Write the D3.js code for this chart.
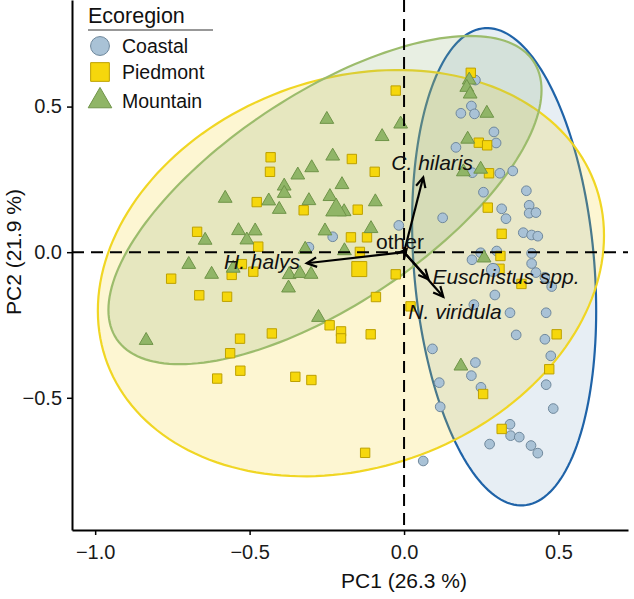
<!DOCTYPE html>
<html lang="en">
<head>
  <meta charset="UTF-8">
  <title>PCA biplot by ecoregion</title>
  <script src="https://d3js.org/d3.v7.min.js"></script>
  <style>
    body { margin: 0; background: #fff; }
    text { font-family: "Liberation Sans", Arial, sans-serif; fill: #111; }
    .axis path, .axis line { stroke: #000; }
    .axis path { stroke-width: 2; }
    .axis line { stroke-width: 1.5; }
    .axis text { font-size: 20px; fill: #1a1a1a; }
    .zero { stroke: #000; stroke-width: 2; stroke-dasharray: 12,7; }
    .loading { stroke: #000; stroke-width: 2.2; fill: none; }
    .spp { font-size: 21px; }
  </style>
</head>
<body>
  <div id="chart"></div>

  <script>
    // PC scores, [PC1, PC2]
    const coastal = [
      [0.231, 0.591], [0.218, 0.502], [0.184, 0.477], [0.228, 0.475], [0.291, 0.413],
      [0.298, 0.375], [0.168, 0.360], [0.221, 0.273], [0.310, 0.271], [0.352, 0.279],
      [0.396, 0.211], [0.257, 0.206], [0.316, 0.149], [0.405, 0.161], [0.405, 0.134],
      [0.427, 0.136], [0.330, 0.115], [0.125, 0.118], [0.386, 0.067], [0.413, 0.059],
      [0.433, 0.055], [0.248, -0.002], [0.300, 0.004], [0.220, -0.026], [0.413, -0.004],
      [0.413, -0.039], [0.427, -0.070], [0.456, -0.086], [0.478, -0.118], [0.294, -0.147],
      [0.226, -0.180], [0.343, -0.208], [0.460, -0.208], [0.363, -0.284], [0.456, -0.299],
      [0.092, -0.332], [0.475, -0.356], [0.231, -0.379], [0.218, -0.424], [0.114, -0.448],
      [0.249, -0.464], [0.460, -0.455], [0.117, -0.531], [0.483, -0.537], [0.343, -0.591],
      [0.345, -0.630], [0.373, -0.635], [0.277, -0.659], [0.411, -0.664], [0.433, -0.690],
      [0.062, -0.717], [-0.017, 0.092], [-0.231, 0.053], [-0.308, 0.017]
    ];
    const piedmont = [
      [0.216, 0.616], [-0.027, 0.555], [-0.432, 0.326], [-0.434, 0.276], [-0.169, 0.320],
      [-0.095, 0.276], [0.242, 0.376], [0.269, 0.367], [0.275, 0.271], [0.271, 0.153],
      [0.316, 0.063], [0.312, -0.013], [0.309, -0.057], [0.380, -0.109], [0.494, -0.282],
      [0.470, -0.402], [0.256, -0.487], [0.316, -0.607], [-0.477, 0.172], [-0.670, 0.070],
      [-0.472, 0.019], [-0.525, -0.041], [-0.558, -0.078], [-0.488, -0.067], [-0.754, -0.091],
      [-0.663, -0.148], [-0.573, -0.153], [-0.531, -0.297], [-0.563, -0.347], [-0.530, -0.407],
      [-0.605, -0.434], [-0.325, 0.144], [-0.150, 0.146], [-0.172, 0.051], [-0.120, 0.051],
      [-0.143, 0.001], [-0.027, -0.076], [-0.091, -0.154], [0.021, -0.186], [-0.241, -0.251],
      [-0.204, -0.272], [-0.204, -0.296], [-0.108, -0.282], [-0.428, -0.279], [-0.352, -0.428],
      [-0.300, -0.439], [-0.126, -0.689]
    ];
    const mountain = [
      [0.211, 0.591], [0.203, 0.566], [0.214, 0.543], [0.268, 0.477], [0.206, 0.388],
      [0.192, 0.276], [0.248, 0.285], [0.259, -0.020], [0.184, -0.391], [-0.250, 0.456],
      [-0.011, 0.440], [-0.071, 0.397], [-0.231, 0.330], [-0.299, 0.290], [-0.344, 0.265],
      [-0.388, 0.227], [-0.388, 0.202], [-0.201, 0.232], [-0.579, 0.185], [-0.438, 0.176],
      [-0.308, 0.177], [-0.240, 0.191], [-0.404, 0.147], [-0.194, 0.139], [-0.093, 0.173],
      [-0.644, 0.041], [-0.536, 0.074], [-0.482, 0.073], [-0.509, 0.042], [-0.256, 0.073],
      [-0.107, 0.081], [-0.320, 0.010], [-0.193, 0.005], [-0.697, -0.042], [-0.623, -0.076],
      [-0.553, -0.055], [-0.372, -0.077], [-0.337, -0.073], [-0.301, -0.076], [-0.374, -0.123],
      [-0.277, -0.224], [-0.835, -0.303]
    ];

    // group means (drawn larger)
    const centroidGroups = ["Coastal", "Piedmont", "Mountain"];
    const centroidPC1 = [0.288, -0.145, -0.220];
    const centroidPC2 = [-0.061, -0.058, 0.145];

    // ellipse centres and spread (variances / covariance in PC units)
    const ellipseGroups = ["Coastal", "Piedmont", "Mountain"];
    const ellipseCx  = [0.324, -0.172, -0.256];
    const ellipseCy  = [-0.050, -0.072, 0.179];
    const ellipseVxx = [0.0888, 0.6713, 0.4915];
    const ellipseVyy = [0.6717, 0.4866, 0.3176];
    const ellipseVxy = [-0.0451, 0.1057, 0.2646];

    // species loadings and label positions
    const species  = ["H. halys", "C. hilaris", "Euschistus spp.", "N. viridula", "other"];
    const loadPC1  = [-0.315, 0.062, 0.079, 0.127, 0.008];
    const loadPC2  = [-0.038, 0.257, -0.093, -0.153, 0.010];
    const labelPC1 = [-0.460, 0.091, 0.330, 0.165, -0.013];
    const labelPC2 = [-0.034, 0.306, -0.085, -0.205, 0.035];

    const xTicks = [-1.0, -0.5, 0.0, 0.5];
    const yTicks = [-0.5, 0.0, 0.5];

    const colors = {
      Coastal:  { fill: "#a9c2d6", stroke: "#6f889c", ring: "#1f63a8", shade: "#87aac8", shape: d3.symbolCircle },
      Piedmont: { fill: "#f6d70c", stroke: "#bda100", ring: "#f0d624", shade: "#f5d31e", shape: d3.symbolSquare },
      Mountain: { fill: "#90b567", stroke: "#6f9448", ring: "#9cbc6c", shade: "#8eaf72", shape: d3.symbolTriangle }
    };
    const pointSize = { Coastal: 74, Piedmont: 88, Mountain: 82 };
    const centroidSize = { Coastal: 135, Piedmont: 225, Mountain: 185 };

    const W = 634, H = 599;
    const svg = d3.select("#chart")
      .append("svg")
      .attr("width", W)
      .attr("height", H);

    const x = d3.scaleLinear().domain([-1.075, 0.725]).range([72, 628]);
    const y = d3.scaleLinear().domain([-0.954, 0.866]).range([530, 0]);

    // ellipses
    const line = d3.line().x(d => x(d[0])).y(d => y(d[1])).curve(d3.curveLinearClosed);
    ellipseGroups.forEach((g, i) => {
      const l11 = Math.sqrt(ellipseVxx[i]);
      const l21 = ellipseVxy[i] / l11;
      const l22 = Math.sqrt(ellipseVyy[i] - l21 * l21);
      const pts = d3.range(0, 2 * Math.PI, Math.PI / 90).map(t => [
        ellipseCx[i] + l11 * Math.cos(t),
        ellipseCy[i] + l21 * Math.cos(t) + l22 * Math.sin(t)
      ]);
      svg.append("path")
        .attr("d", line(pts))
        .attr("fill", colors[g].shade)
        .attr("fill-opacity", 0.2)
        .attr("stroke", colors[g].ring)
        .attr("stroke-width", 2.2);
    });

    // points
    const groups = [["Coastal", coastal], ["Piedmont", piedmont], ["Mountain", mountain]];
    groups.forEach(([g, data]) => {
      svg.append("g").selectAll("path")
        .data(data)
        .enter()
        .append("path")
        .attr("transform", d => `translate(${x(d[0])},${y(d[1])})`)
        .attr("d", d3.symbol().type(colors[g].shape).size(pointSize[g]))
        .attr("fill", colors[g].fill)
        .attr("stroke", colors[g].stroke)
        .attr("stroke-width", 1);
    });

    svg.append("g").selectAll("path")
      .data(centroidGroups)
      .enter()
      .append("path")
      .attr("transform", (g, i) => `translate(${x(centroidPC1[i])},${y(centroidPC2[i])})`)
      .attr("d", g => d3.symbol().type(colors[g].shape).size(centroidSize[g])())
      .attr("fill", g => colors[g].fill)
      .attr("stroke", g => colors[g].stroke)
      .attr("stroke-width", 1);

    // zero lines
    svg.append("line").attr("class", "zero")
      .attr("x1", x(0)).attr("x2", x(0)).attr("y1", y.range()[1]).attr("y2", y.range()[0]);
    svg.append("line").attr("class", "zero")
      .attr("x1", x.range()[0]).attr("x2", x.range()[1]).attr("y1", y(0)).attr("y2", y(0));

    // loading arrows
    species.forEach((s, i) => {
      const x0 = x(0), y0 = y(0);
      const x1 = x(loadPC1[i]), y1 = y(loadPC2[i]);
      const a = Math.atan2(y1 - y0, x1 - x0);
      const len = 11, spread = Math.PI / 7;
      svg.append("line").attr("class", "loading")
        .attr("x1", x0).attr("y1", y0).attr("x2", x1).attr("y2", y1);
      svg.append("path").attr("class", "loading")
        .attr("stroke-linejoin", "miter")
        .attr("d", `M${x1 - len * Math.cos(a - spread)},${y1 - len * Math.sin(a - spread)}` +
                   `L${x1},${y1}` +
                   `L${x1 - len * Math.cos(a + spread)},${y1 - len * Math.sin(a + spread)}`);
      svg.append("text").attr("class", "spp")
        .attr("x", x(labelPC1[i]))
        .attr("y", y(labelPC2[i]))
        .attr("dy", "0.35em")
        .attr("text-anchor", "middle")
        .attr("font-style", s === "other" ? "normal" : "italic")
        .text(s);
    });

    // axes
    svg.append("g")
      .attr("class", "axis")
      .attr("transform", "translate(0,530)")
      .call(d3.axisBottom(x).tickValues(xTicks).tickFormat(d3.format(".1f"))
        .tickSize(5).tickSizeOuter(0).tickPadding(10))
      .call(g => g.selectAll("text").attr("font-family", null).attr("font-size", null));

    svg.append("g")
      .attr("class", "axis")
      .attr("transform", "translate(72,0)")
      .call(d3.axisLeft(y).tickValues(yTicks).tickFormat(d3.format(".1f"))
        .tickSize(5).tickSizeOuter(0).tickPadding(5))
      .call(g => g.selectAll("text").attr("font-family", null).attr("font-size", null));

    svg.append("text")
      .attr("x", 404).attr("y", 588)
      .attr("text-anchor", "middle")
      .style("font-size", "21px")
      .text("PC1 (26.3 %)");

    svg.append("text")
      .attr("transform", "translate(21,252) rotate(-90)")
      .attr("text-anchor", "middle")
      .style("font-size", "21px")
      .text("PC2 (21.9 %)");

    // legend
    const legend = svg.append("g").attr("transform", "translate(88,0)");
    legend.append("text").attr("x", 0).attr("y", 23).style("font-size", "21.5px").text("Ecoregion");
    legend.append("line").attr("x1", 0).attr("x2", 125).attr("y1", 30).attr("y2", 30)
      .attr("stroke", "#333").attr("stroke-width", 1.2);
    const legendSize = { Coastal: 280, Piedmont: 350, Mountain: 240 };
    const legendY = [46, 72, 101];
    centroidGroups.forEach((g, i) => {
      legend.append("path")
        .attr("transform", `translate(12,${legendY[i]})`)
        .attr("d", d3.symbol().type(colors[g].shape).size(legendSize[g])())
        .attr("fill", colors[g].fill)
        .attr("stroke", colors[g].stroke)
        .attr("stroke-width", 1);
      legend.append("text")
        .attr("x", 34).attr("y", legendY[i]).attr("dy", "0.35em")
        .style("font-size", "19.5px")
        .text(g);
    });
  </script>
</body>
</html>
